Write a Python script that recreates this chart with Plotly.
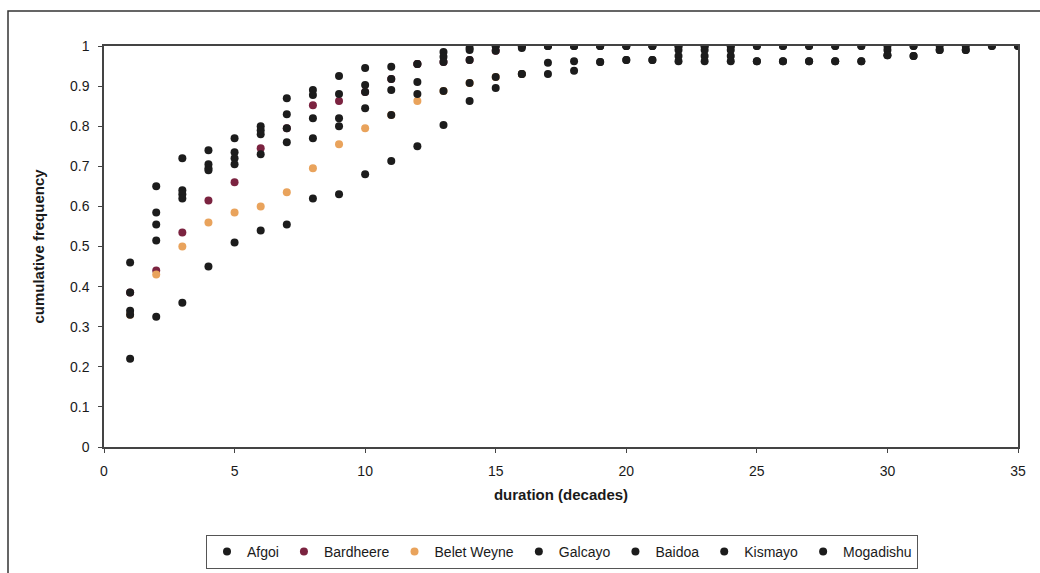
import plotly.graph_objects as go

series_names = ["Afgoi", "Bardheere", "Belet Weyne", "Galcayo", "Baidoa", "Kismayo", "Mogadishu"]

afgoi = [0.46, 0.65, 0.72, 0.74, 0.77, 0.80, 0.87, 0.89, 0.925, 0.945, 0.948, 0.955, 0.985, 0.995,
         1.0, 1.0, 1.0, 1.0, 1.0, 1.0, 1.0, 1.0, 1.0, 1.0, 1.0, 1.0, 1.0, 1.0, 1.0, 1.0, 1.0, 1.0, 1.0, 1.0, 1.0]
bardheere = [0.385, 0.44, 0.535, 0.615, 0.66, 0.745, 0.795, 0.852, 0.863, 0.885, 0.918, 0.955, 0.96,
             0.965, 0.988, 1.0]
belet_weyne = [0.33, 0.43, 0.50, 0.56, 0.585, 0.60, 0.635, 0.695, 0.755, 0.795, 0.828, 0.863, 0.888,
               0.908, 0.923, 0.93]
galcayo = [0.385, 0.585, 0.64, 0.705, 0.735, 0.79, 0.83, 0.878, 0.88, 0.903, 0.918, 0.955, 0.973, 0.99,
           1.0, 1.0, 1.0, 1.0, 1.0, 1.0, 1.0, 1.0, 1.0, 1.0]
baidoa = [0.34, 0.555, 0.63, 0.695, 0.72, 0.78, 0.795, 0.82, 0.82, 0.885, 0.89, 0.91, 0.96, 0.965,
          0.988, 0.995, 1.0, 1.0, 1.0, 1.0, 1.0, 0.99, 0.99, 0.99, 1.0, 1.0, 1.0, 1.0, 1.0, 0.99, 1.0,
          0.99, 0.99]
kismayo = [0.33, 0.515, 0.62, 0.69, 0.705, 0.73, 0.76, 0.77, 0.80, 0.845, 0.828, 0.88, 0.888, 0.908,
           0.923, 0.93, 0.958, 0.962, 0.96, 0.965, 0.965, 0.975, 0.975, 0.975, 0.962, 0.962, 0.962,
           0.962, 0.962, 0.977, 0.975]
mogadishu = [0.22, 0.325, 0.36, 0.45, 0.51, 0.54, 0.555, 0.62, 0.63, 0.68, 0.713, 0.75, 0.803, 0.863,
             0.895, 0.93, 0.93, 0.938, 0.96, 0.965, 0.965, 0.962, 0.962, 0.962, 0.962, 0.962, 0.962,
             0.962, 0.962, 0.977, 0.975, 0.99, 0.99, 1.0, 1.0]

all_values = [afgoi, bardheere, belet_weyne, galcayo, baidoa, kismayo, mogadishu]
colors = ["#1c1c1c", "#7b2340", "#e9a35c", "#1c1c1c", "#1c1c1c", "#1c1c1c", "#1c1c1c"]

y_ticks = [0, 0.1, 0.2, 0.3, 0.4, 0.5, 0.6, 0.7, 0.8, 0.9, 1]
y_labels = ["0", "0.1", "0.2", "0.3", "0.4", "0.5", "0.6", "0.7", "0.8", "0.9", "1"]
x_ticks = [0, 5, 10, 15, 20, 25, 30, 35]

font_fam = "Liberation Sans, Arial, sans-serif"

fig = go.Figure()
for name, vals, col in zip(series_names, all_values, colors):
    fig.add_trace(go.Scatter(
        x=list(range(1, len(vals) + 1)), y=vals, mode="markers", name=name,
        marker=dict(color=col, size=8, line=dict(width=0)),
    ))

fig.update_layout(
    width=1040, height=573,
    margin=dict(l=104, r=22, t=46, b=126, autoexpand=False),
    paper_bgcolor="white", plot_bgcolor="white",
    font=dict(family=font_fam, size=14, color="#1a1a1a"),
    showlegend=True,
    legend=dict(orientation="h", x=562 / 1040, xanchor="center", xref="container",
                y=1 - 535 / 573, yanchor="top", yref="container",
                bordercolor="#555555", borderwidth=1, bgcolor="white",
                font=dict(size=14, family=font_fam), itemwidth=30, tracegroupgap=0),
    xaxis=dict(range=[0, 35], tickvals=x_ticks, showgrid=False, zeroline=False,
               showline=True, linecolor="#444444", linewidth=1.5, mirror=True,
               ticks="outside", ticklen=4, tickcolor="#444444", ticklabelstandoff=6,
               title=dict(text="<b>duration (decades)</b>", standoff=12, font=dict(size=15))),
    yaxis=dict(range=[0, 1], tickvals=y_ticks, ticktext=y_labels, showgrid=False, zeroline=False,
               showline=True, linecolor="#444444", linewidth=1.5, mirror=True,
               ticks="outside", ticklen=4, tickcolor="#444444", ticklabelstandoff=6,
               title=dict(text="<b>cumulative frequency</b>", standoff=22, font=dict(size=15))),
    shapes=[dict(type="rect", xref="paper", yref="paper",
                 x0=-96 / 914, x1=1 + 40 / 914, y0=-140 / 401, y1=1 + 35 / 401,
                 line=dict(color="#333333", width=1.5), fillcolor="rgba(0,0,0,0)", layer="below")],
)

fig.write_html("out.html")
